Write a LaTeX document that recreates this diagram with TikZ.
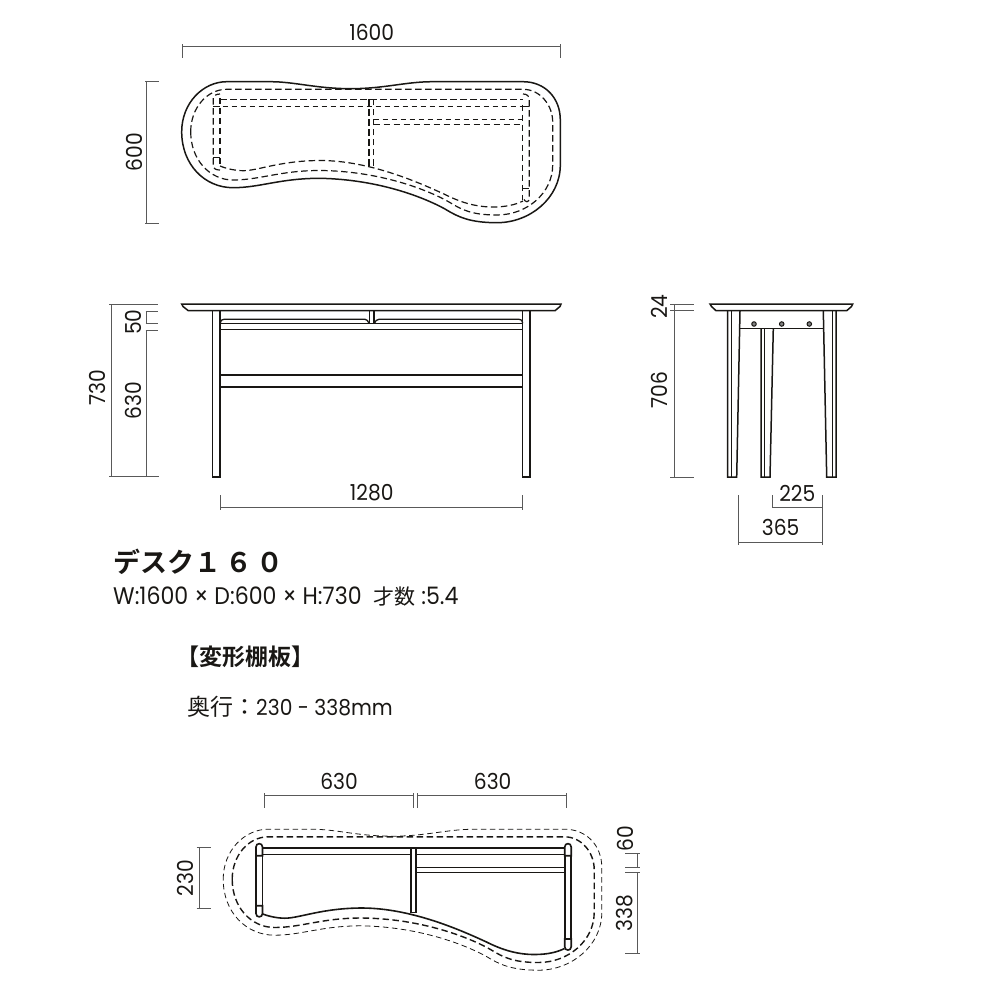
\documentclass[tikz,border=0pt]{standalone}
\usepackage{fontspec}
\setmainfont[FakeStretch=0.92]{Poppins}
\newfontfamily\jpfont{Noto Sans CJK JP}
\newfontfamily\jpbold{Noto Sans CJK JP Bold}
\newfontfamily\jpwide[LetterSpace=15]{Noto Sans CJK JP Bold}
\definecolor{mdim}{rgb}{0.35, 0.35, 0.35}
\definecolor{mink}{rgb}{0.1, 0.09, 0.08}
\tikzset{
  dim/.style = {mdim, line width = 1},
  lbl/.style = {inner sep = 0, font = \fontsize{22}{26}\selectfont, text = mink},
  vlbl/.style = {lbl, rotate = 90},
  capt/.style = {anchor = west, inner sep = 0, text = mink},
  wood/.style = {mink, line width = 1.3},
  hidden/.style = {mink, line width = 1.2, dash pattern = on 6.5 off 3.5},
  thinhidden/.style = {mink, line width = 0.8, dash pattern = on 5.5 off 3.5},
  bolt/.style = {draw = mink, fill = gray, circle, line width = 1, inner sep = 0, minimum size = 4.5},
  deskouter/.style = {insert path = {
    (181.7, 131.7) .. controls (181.7, 103) and (203, 81.7) .. (226.7, 81.7) -- (270, 81.7)
    .. controls (295, 81.7) and (315, 88.5) .. (350, 88.7)
    .. controls (385, 88.7) and (405, 81.7) .. (433, 81.7) -- (523, 81.7)
    .. controls (545, 81.7) and (560.3, 98) .. (560.3, 120) -- (560.3, 165)
    .. controls (560.3, 198) and (530, 222.7) .. (497, 222.7)
    .. controls (470, 222.7) and (458, 217) .. (445, 209)
    .. controls (425, 198) and (380, 179.5) .. (320, 178.3)
    .. controls (280, 178.3) and (260, 187.7) .. (233, 187.7)
    .. controls (205, 187.7) and (181.7, 165) .. (181.7, 131.7) -- cycle}},
  deskinset/.style = {insert path = {
    (190.7, 131.7) .. controls (190.7, 108) and (207, 89.3) .. (226.7, 89.3) -- (523, 89.3)
    .. controls (540, 89.3) and (552.7, 105) .. (552.7, 122) -- (552.7, 165)
    .. controls (552.7, 193) and (527, 215) .. (497, 215)
    .. controls (472, 215) and (462, 210) .. (449, 202)
    .. controls (428, 190) and (380, 171) .. (320, 170.5)
    .. controls (280, 170.5) and (260, 180) .. (233, 180)
    .. controls (210, 180) and (190.7, 160) .. (190.7, 131.7) -- cycle}},
  deskshelf/.style = {insert path = {
    (220, 166) .. controls (226, 168.5) and (235, 170.7) .. (243.3, 170.7)
    .. controls (258, 170.7) and (280, 160.7) .. (320, 160.5)
    .. controls (370, 160.5) and (420, 183) .. (445, 194.5)
    .. controls (460, 202) and (475, 207) .. (493, 207)
    .. controls (505, 207) and (515, 205) .. (523, 201)}}
}
\begin{document}
\begin{tikzpicture}[x=1pt, y=-1pt]
  \useasboundingbox (0, 0) rectangle (1000, 1000);

  % plan view
  \draw [wood, line width = 1.5, deskouter];
  \draw [hidden, deskinset];
  \draw [hidden] (220, 99.3) -- (523, 99.3);
  \draw [thinhidden] (213.5, 106) -- (523, 106);
  \draw [hidden, deskshelf];
  \draw [hidden] (220, 170) .. controls (216, 170) and (213.3, 169) .. (213.3, 165) -- (213.3, 98) .. controls (213.3, 96) and (216, 94) .. (220, 94);
  \draw [hidden] (220, 98) -- (220, 166);
  \draw [hidden] (369, 99.3) -- (369, 165) -- (373.7, 165) -- (373.7, 99.3);
  \draw [thinhidden] (373.7, 119.3) -- (522.7, 119.3);
  \draw [hidden, line width = 1] (373.7, 124.7) -- (522.7, 124.7);
  \draw [hidden] (522.7, 105) -- (522.7, 200);
  \draw [hidden] (523, 94) .. controls (527, 94) and (529.3, 96) .. (529.3, 100) -- (529.3, 198) .. controls (529.3, 203) and (525, 203) .. (523.3, 198);
  \foreach \y in {106.7, 157.3} {
    \draw [wood, line width = 1] (213.3, \y) -- (220, \y);
  }
  \foreach \y in {106.7, 189} {
    \draw [wood, line width = 1] (522.7, \y) -- (529.3, \y);
  }

  \draw [dim] (182.3, 44.3) -- (182.3, 58.3);
  \draw [dim] (560.3, 44.3) -- (560.3, 58.3);
  \draw [dim] (182.3, 46.7) -- (560.3, 46.7);
  \node [lbl] (planwidth) at (371.7, 32.7) {1600};
  \draw [dim] (145, 81.7) -- (159, 81.7);
  \draw [dim] (145, 223.3) -- (159, 223.3);
  \draw [dim] (146.7, 81.7) -- (146.7, 223.3);
  \node [vlbl] (plandepth) at (134, 152) {600};

  % front view
  \draw [wood, line width = 1.5] (181.7, 304) -- (561, 304) -- (560, 306.5) -- (555, 310.7) -- (188.3, 310.7) -- (183, 306.5) -- cycle;
  \foreach \x in {212.7, 522.7} {
    \draw [wood, line width = 1.5] (\x, 310.7) -- (\x, 477) -- (\x + 7.5, 477) -- (\x + 7.5, 310.7);
  }
  \draw [wood] (369.3, 310.7) -- (369.3, 323.3);
  \draw [wood] (374, 310.7) -- (374, 323.3);
  \draw [wood] (220.3, 323.3) .. controls (221, 320) and (222, 319.3) .. (224, 319.3) -- (365, 319.3) .. controls (367, 319.3) and (368, 321) .. (369, 323.3);
  \draw [wood] (374.5, 323.3) .. controls (375.5, 321) and (376.5, 319.3) .. (379, 319.3) -- (519, 319.3) .. controls (521, 319.3) and (522, 320) .. (522.7, 323.3);
  \draw [wood, line width = 1.5] (220.3, 323.5) -- (522.7, 323.5);
  \draw [wood, line width = 1.5] (220.3, 329.5) -- (522.7, 329.5);
  \draw [wood, line width = 1.5] (220.3, 375) -- (522.7, 375);
  \draw [wood, line width = 1.5] (220.3, 387) -- (522.7, 387);

  \draw [dim] (109.3, 304.3) -- (158.3, 304.3);
  \draw [dim] (109.3, 476.5) -- (159, 476.5);
  \draw [dim] (111, 304.3) -- (111, 476.5);
  \draw [dim] (145.7, 311.3) -- (158.3, 311.3);
  \draw [dim] (145.7, 323.7) -- (158.3, 323.7);
  \draw [dim] (145.7, 330.7) -- (158.3, 330.7);
  \draw [dim] (146.7, 311.3) -- (146.7, 323.7);
  \draw [dim] (146.7, 330.7) -- (146.7, 476.5);
  \node [vlbl] (frontall) at (97, 388) {730};
  \node [vlbl] (frontgap) at (133, 322) {50};
  \node [vlbl] (frontclear) at (133, 401) {630};
  \draw [dim] (220.3, 495) -- (220.3, 510);
  \draw [dim] (522.3, 495) -- (522.3, 510);
  \draw [dim] (220.3, 507.7) -- (522.3, 507.7);
  \node [lbl] (frontspan) at (371.7, 493) {1280};

  % side view
  \draw [wood, line width = 1.5] (710, 304) -- (852.7, 304) -- (851.5, 306.5) -- (846.7, 310.7) -- (716, 310.7) -- (711.5, 306.5) -- cycle;
  \draw [wood, line width = 1.5] (727.5, 310.7) -- (727.5, 477) -- (736.7, 477) -- (740, 310.7);
  \draw [wood, line width = 0.8] (731, 310.7) -- (731, 477);
  \draw [wood, line width = 1.5] (761, 328.3) -- (761, 477) -- (770, 477) -- (773.3, 328.3);
  \draw [wood, line width = 0.8] (764.5, 328.3) -- (764.5, 477);
  \draw [wood, line width = 1.5] (823.3, 310.7) -- (826.7, 477) -- (836, 477) -- (836, 310.7);
  \draw [wood, line width = 0.8] (832.5, 310.7) -- (832.5, 477);
  \draw [wood, line width = 1.5] (740, 328.3) -- (823.3, 328.3);
  \foreach \x/\tag in {754/a, 781.7/b, 809.3/c} {
    \node [bolt] (bolt\tag) at (\x, 324) {};
  }

  \draw [dim] (670, 304.3) -- (694.3, 304.3);
  \draw [dim] (670, 310.3) -- (694.3, 310.3);
  \draw [dim] (670, 477) -- (694.3, 477);
  \draw [dim] (674.7, 304.3) -- (674.7, 477);
  \node [vlbl] (sidetop) at (659, 306.7) {24};
  \node [vlbl] (sideleg) at (659, 390) {706};
  \draw [dim] (772, 495) -- (772, 508);
  \draw [dim] (772, 507.3) -- (822.7, 507.3);
  \node [lbl] (sideinner) at (797.3, 493) {225};
  \draw [dim] (738.7, 495) -- (738.7, 545);
  \draw [dim] (822.7, 495) -- (822.7, 545);
  \draw [dim] (738.7, 542.7) -- (822.7, 542.7);
  \node [lbl] (sideouter) at (780.7, 527.7) {365};

  % captions
  \node [capt, font = \fontsize{27}{30}\selectfont] (title) at (113, 562) {\jpbold デスク\jpwide １６０};
  \node [capt, font = \fontsize{24}{28}\selectfont] (specs) at (113, 597) {W:1600\hspace{6pt}×\hspace{6pt}D:600\hspace{6pt}×\hspace{6pt}H:730\ \ {\fontsize{21}{28}\selectfont\jpfont 才数} :5.4};
  \node [capt, font = \fontsize{23}{28}\selectfont\jpbold] (shelfhead) at (176, 656.7) {【変形棚板】};
  \node [capt, font = \fontsize{22}{28}\selectfont] (shelfdepth) at (187, 706.7) {{\fontsize{23}{28}\selectfont\jpfont 奥行：}230 - 338mm};

  % shelf view
  \begin{scope}[shift = {(41.5, 747.5)}]
    \draw [thinhidden, deskouter];
    \draw [hidden, line width = 1.4, deskinset];
    \draw [wood, line width = 1.6, deskshelf];
  \end{scope}
  \draw [wood, line width = 1.6] (262, 847.7) -- (565, 847.7);
  \draw [wood, line width = 1.2] (262, 854.2) -- (565, 854.2);
  \draw [wood, line width = 1.5] (416, 867.3) -- (564.7, 867.3);
  \draw [wood, line width = 1.5] (416, 872.3) -- (564.7, 872.3);
  \draw [wood, line width = 1.6, fill = white] (410.7, 848) rectangle (416, 912.5);
  \foreach \x/\ybot/\ycap in {256/917.5/905.7, 564.7/950.7/939} {
    \draw [wood, line width = 1.6, fill = white] (\x, 855.7) -- (\x, \ycap) -- (\x + 6.5, \ycap) -- (\x + 6.5, 855.7);
    \draw [wood, line width = 1.6, fill = white] (\x, 855.7) -- (\x, 847) .. controls (\x, 842.5) and (\x + 6.5, 842.5) .. (\x + 6.5, 847) -- (\x + 6.5, 855.7) -- cycle;
    \draw [wood, line width = 1.6, fill = white] (\x, \ycap) -- (\x, \ybot - 4) .. controls (\x, \ybot + 0.5) and (\x + 6.5, \ybot + 0.5) .. (\x + 6.5, \ybot - 4) -- (\x + 6.5, \ycap) -- cycle;
  }

  \draw [dim] (264.3, 793.3) -- (264.3, 807.7);
  \draw [dim] (413.3, 793.3) -- (413.3, 807.7);
  \draw [dim] (264.3, 795.7) -- (413.3, 795.7);
  \node [lbl] (shelfleft) at (339, 781.7) {630};
  \draw [dim] (417.7, 793.3) -- (417.7, 807.7);
  \draw [dim] (566.7, 793.3) -- (566.7, 807.7);
  \draw [dim] (417.7, 795.7) -- (566.7, 795.7);
  \node [lbl] (shelfright) at (492.7, 781.7) {630};
  \draw [dim] (196.7, 847.3) -- (210.7, 847.3);
  \draw [dim] (196.7, 908.7) -- (210.7, 908.7);
  \draw [dim] (199.3, 847.3) -- (199.3, 908.7);
  \node [vlbl] (shelfmin) at (185.7, 878.3) {230};
  \foreach \y in {853.3, 867.7, 872.3, 953.3} {
    \draw [dim] (625, \y) -- (640, \y);
  }
  \draw [dim] (637.3, 853.3) -- (637.3, 867.7);
  \draw [dim] (637.3, 872.3) -- (637.3, 953.3);
  \node [vlbl] (shelfgap) at (625, 838.3) {60};
  \node [vlbl] (shelfmax) at (625, 913.3) {338};
\end{tikzpicture}
\end{document}
